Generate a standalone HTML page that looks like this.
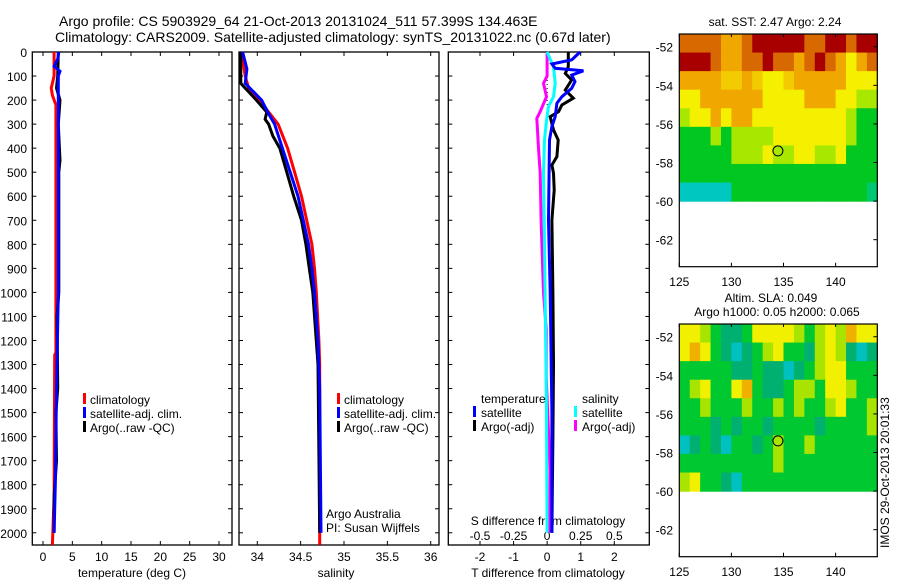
<!DOCTYPE html>
<html><head><meta charset="utf-8">
<style>
html,body{margin:0;padding:0;background:#fff;}
svg{display:block;font-family:"Liberation Sans",sans-serif;}
text{font-size:12px;fill:#000;}
</style></head>
<body>
<svg id="chart" width="900" height="580" viewBox="0 0 900 580" xmlns="http://www.w3.org/2000/svg">
<text x="59" y="26" style="font-size:14px">Argo profile: CS 5903929_64 21-Oct-2013 20131024_511 57.399S 134.463E</text>
<text x="55" y="42" style="font-size:14px">Climatology: CARS2009. Satellite-adjusted climatology: synTS_20131022.nc (0.67d later)</text>
<g id="g"></g>
</svg>
<script>
// ---------- data ----------
const depthTicks = [0,100,200,300,400,500,600,700,800,900,1000,1100,1200,1300,1400,1500,1600,1700,1800,1900,2000];
const tempTicks = [0,5,10,15,20,25,30];
const salTicks = [34,34.5,35,35.5,36];
const tdiffTicks = [-2,-1,0,1,2];
const sdiffTicks = [-0.5,-0.25,0,0.25,0.5];
const sdiffLabels = ["-0.5","-0.25","0","0.25","0.5"];
const latTicks = [-52,-54,-56,-58,-60,-62];
const lonTicks = [125,130,135,140];

// temperature profiles
const tClimDepth = [0,100,130,150,180,220,300,1250,1260,1850,2050];
const tClimVal   = [1.9,1.9,1.6,1.4,1.6,2.2,2.2,2.2,2.0,1.9,1.6];
const tSatDepth  = [0,30,60,80,100,200,1000,1400,1800,2000];
const tSatVal    = [2.7,2.5,1.9,2.9,2.6,2.6,2.6,2.3,2.1,1.9];
const tArgoDepth = [0,100,150,200,300,400,450,500,1000,1100,1400,1500,1700,1850,2000];
const tArgoVal   = [2.6,2.5,2.3,2.9,2.6,2.8,2.9,2.7,2.7,2.4,2.5,2.2,2.3,1.9,1.9];

// salinity profiles
const sClimDepth = [0,100,150,200,250,300,400,500,600,700,800,900,1000,1200,1300,2050];
const sClimVal   = [33.82,33.86,33.90,34.03,34.13,34.24,34.35,34.43,34.51,34.57,34.63,34.66,34.68,34.71,34.72,34.72];
const sSatDepth  = [0,70,130,200,250,300,400,500,600,700,800,900,1000,1200,1400,2000];
const sSatVal    = [33.83,33.88,33.86,34.05,34.12,34.20,34.29,34.38,34.47,34.53,34.59,34.63,34.66,34.70,34.72,34.735];
const sArgoDepth = [0,130,150,200,250,280,300,350,400,500,600,700,800,900,1000,1300,2000];
const sArgoVal   = [33.81,33.81,33.86,33.99,34.11,34.09,34.13,34.18,34.26,34.34,34.42,34.51,34.56,34.60,34.64,34.70,34.72];

// differences from climatology
const dTSatDepth  = [0,33,50,68,78,96,123,151,186,213,269,310,366,700,1000,1500,2000];
const dTSatVal    = [0.98,0.73,0.14,0.24,1.08,0.73,0.83,0.73,0.44,0.29,0.24,0.14,0.07,0.04,0.09,0.14,0.14];
const dTArgoDepth = [0,61,89,116,158,192,220,248,269,324,366,435,470,504,574,699,1000,1300,1600,2000];
const dTArgoVal   = [0.63,0.63,0.54,0.73,0.54,0.78,0.44,0.34,0.09,0.19,0.33,0.29,0.14,0.19,0.21,0.14,0.17,0.19,0.17,0.14];
const dSSatDepth  = [0,61,130,186,227,296,366,504,699,1000,1500,2000];
const dSSatVal    = [0,0.047,0.06,0.047,0.01,-0.007,-0.02,-0.027,-0.022,-0.015,-0.005,0.0];
const dSArgoDepth = [0,100,130,186,248,276,324,393,504,699,1000,1155,1352,1739,2000];
const dSArgoVal   = [0,0,-0.027,-0.005,-0.052,-0.077,-0.072,-0.065,-0.052,-0.045,-0.027,-0.007,-0.007,0.022,0.02];

// map grids (rows -51.34..-60, cols lon 125..144)
const sstGrid = [
 [5,5,5,5,4,4,5,6,6,6,6,6,5,5,6,6,5,6,6],
 [6,6,6,5,4,4,5,5,6,5,5,4,5,6,5,4,3,4,5],
 [4,4,4,4,3.5,3.5,4,3.5,3,3,3.5,4,4,4,4,4,3,3,3],
 [3,3,4,4,4,4,4,4,3,3,3,3,4,4,4,3,3,2,2],
 [2,3,3,4,3,4,4,3,3,3,3,3,3,3,3,3,2,1,1],
 [1,1,1,2,1,2,2,2,2,3,3,3,3,3,3,3,2,1,1],
 [1,1,1,1,1,2,2,2,3,2,2,3,3,2,2,3,1,1,1],
 [1,1,1,1,1,1,1,1,1,1,1,1,1,1,1,1,1,1,1],
 [0,0,0,0,0,1,1,1,1,1,1,1,1,1,1,1,1,1,0.5]];
const slaGrid = [
 [4,4,3,2,1,1,2,4,4,4,4,3,2,3,4,3,5,4,4],
 [4,5,4,2,1,0,1,2,3,4,2,2,1,3,4,3,1,0,1],
 [2,2,2,2,2,1,1,2,1,1,0,1,2,3,4,4,2,2,2],
 [2,3,4,2,2,4,5,2,1,1,2,3,3,2,4,4,3,2,2],
 [2,2,3,2,2,2,3,2,2,3,2,3,2,2,3,4,2,2,3],
 [2,2,2,1,2,1,2,2,1,2,2,2,2,1,2,2,2,2,3],
 [0,1,2,1,0,2,2,1,2,3,2,2,3,2,2,2,2,2,2],
 [2,2,2,2,2,2,2,2,2,3,2,2,2,2,2,2,2,2,2],
 [3,4,2,2,1,0,2,2,2,2,2,2,2,2,2,2,2,2,2]];
const sstColors = ["#00c8c0","#00c820","#a8e800","#f4f000","#f0a800","#d86800","#a80000"];
const slaColors = ["#00c0c0","#00b070","#00c830","#a8e400","#f0f000","#f0b000"];
const argoLon = 134.463, argoLat = -57.399;

// ---------- drawing ----------
const NS="http://www.w3.org/2000/svg";
const G=document.getElementById('g');
function mk(tag,attrs,parent){const e=document.createElementNS(NS,tag);for(const k in attrs)e.setAttribute(k,attrs[k]);(parent||G).appendChild(e);return e;}
const PT=52, PB=545;
const yD = d => PT + d*0.2404;
function lin(d0,d1,r0,r1){return v=>r0+(v-d0)*(r1-r0)/(d1-d0);}
const xT = lin(0,30,43,219);
const xS = lin(34,36,257.3,430.7);
const xDT = lin(-2,2,480,614.3);
const xDS = lin(-0.5,0.5,480,614.3);

function panel(name,x0,x1){
  const r=mk('rect',{x:x0,y:PT,width:x1-x0,height:PB-PT,fill:'none',stroke:'#000','stroke-width':1.3});
  
  
  depthTicks.forEach(d=>{
    const y=yD(d);
    const t1=mk('line',{x1:x0,x2:x0+4,y1:y,y2:y,stroke:'#000'});
    
    
    const t2=mk('line',{x1:x1-4,x2:x1,y1:y,y2:y,stroke:'#000'});
    
    
  });
}
function xticks(name,vals,labels,sc,ly){
  vals.forEach((v,i)=>{
    const x=sc(v);
    const a=mk('line',{x1:x,x2:x,y1:PB,y2:PB-4,stroke:'#000'});
    
    
    const b=mk('line',{x1:x,x2:x,y1:PT,y2:PT+4,stroke:'#000'});
    
    
    const t=mk('text',{x:x,y:ly,'text-anchor':'middle'});
    t.textContent=labels?labels[i]:String(v);
    
    
  });
}
function line(name,ds,vs,sc,col,w){
  const pts=ds.map((d,i)=>sc(vs[i]).toFixed(1)+','+yD(d).toFixed(1)).join(' ');
  const p=mk('polyline',{points:pts,fill:'none',stroke:col,'stroke-width':w||3,'stroke-linejoin':'miter'});
  
  
}
function txt(name,x,y,s,extra){const t=mk('text',Object.assign({x:x,y:y},extra||{}));t.textContent=s;
  
  
  return t;}
function legMark(name,x,y,col){const r=mk('rect',{x:x,y:y-10,width:3,height:11,fill:col});
  
  }

// panel 1 temperature
panel('temperature-panel',32.3,232);
depthTicks.forEach(d=>{txt('depth-label',27,yD(d)+5,String(d),{'text-anchor':'end'});});
xticks('temperature-axis',tempTicks,null,xT,561);
txt('temperature-axis-title',132,577,'temperature (deg C)',{'text-anchor':'middle'});
line('temperature-climatology',tClimDepth,tClimVal,xT,'#ff0000');
line('temperature-argo',tArgoDepth,tArgoVal,xT,'#000000');
line('temperature-satellite',tSatDepth,tSatVal,xT,'#0000ff');
legMark('legend-climatology-mark',83,403,'#ff0000');txt('legend-climatology',90,404,'climatology');
legMark('legend-satellite-mark',83,417,'#0000ff');txt('legend-satellite',90,418,'satellite-adj. clim.');
legMark('legend-argo-mark',83,431,'#000000');txt('legend-argo',90,432,'Argo(..raw -QC)');

// panel 2 salinity
panel('salinity-panel',239,439);
xticks('salinity-axis',salTicks,null,xS,561);
txt('salinity-axis-title',336,577,'salinity',{'text-anchor':'middle'});
line('salinity-climatology',sClimDepth,sClimVal,xS,'#ff0000');
line('salinity-argo',sArgoDepth,sArgoVal,xS,'#000000');
line('salinity-satellite',sSatDepth,sSatVal,xS,'#0000ff');
legMark('legend2-climatology-mark',337,403,'#ff0000');txt('legend2-climatology',344,404,'climatology');
legMark('legend2-satellite-mark',337,417,'#0000ff');txt('legend2-satellite',344,418,'satellite-adj. clim.');
legMark('legend2-argo-mark',337,431,'#000000');txt('legend2-argo',344,432,'Argo(..raw -QC)');
txt('institution-label',326,518,'Argo Australia');
txt('pi-label',326,532,'PI: Susan Wijffels');

// panel 3 differences
panel('difference-panel',448.3,649.3);
xticks('t-difference-axis',tdiffTicks,null,xDT,561);
txt('t-difference-axis-title',548,577,'T difference from climatology',{'text-anchor':'middle'});
sdiffTicks.forEach((v,i)=>{txt('s-difference-label',xDS(v),540,sdiffLabels[i],{'text-anchor':'middle'});});
txt('s-difference-axis-title',548,525,'S difference from climatology',{'text-anchor':'middle'});
{const z=mk('line',{x1:xDT(0),x2:xDT(0),y1:PT,y2:yD(300),stroke:'#000','stroke-dasharray':'1,3'});
 
 }
line('s-diff-argo',dSArgoDepth,dSArgoVal,xDS,'#ff00ff');
line('s-diff-satellite',dSSatDepth,dSSatVal,xDS,'#00ffff');
line('t-diff-argo',dTArgoDepth,dTArgoVal,xDT,'#000000');
line('t-diff-satellite',dTSatDepth,dTSatVal,xDT,'#0000ff');
txt('legend3-temperature-heading',481,403,'temperature');
legMark('legend3-t-satellite-mark',473,416,'#0000ff');txt('legend3-t-satellite',481,417,'satellite');
legMark('legend3-t-argo-mark',473,430,'#000000');txt('legend3-t-argo',481,431,'Argo(-adj)');
txt('legend3-salinity-heading',582,403,'salinity');
legMark('legend3-s-satellite-mark',574,416,'#00ffff');txt('legend3-s-satellite',582,417,'satellite');
legMark('legend3-s-argo-mark',574,430,'#ff00ff');txt('legend3-s-argo',582,431,'Argo(-adj)');

// maps
function hexmix(cols,v){const i=Math.floor(v),f=v-i;if(f===0||i>=cols.length-1)return cols[Math.min(i,cols.length-1)];
  const a=cols[i],b=cols[i+1];const c=k=>Math.round(parseInt(a.substr(k,2),16)*(1-f)+parseInt(b.substr(k,2),16)*f).toString(16).padStart(2,'0');
  return '#'+c(1)+c(3)+c(5);}
function map(name,top,grid,cols){
  const X0=679.3,X1=877.3,latTop=-51.34,latBot=-63.4;
  const xL=lin(125,144,X0,X1); const yL=lin(latTop,latBot,top,top+232.7);
  const rows=grid.length,nc=grid[0].length;
  const rh=(yL(-60)-top)/rows, cw=(X1-X0)/nc;
  grid.forEach((row,r)=>row.forEach((v,c)=>{
    const cell=mk('rect',{x:(X0+c*cw).toFixed(2),y:(top+r*rh).toFixed(2),width:(cw+0.6).toFixed(2),height:(rh+0.6).toFixed(2),fill:hexmix(cols,v)});
    
    
  }));
  const fr=mk('rect',{x:X0,y:top,width:X1-X0,height:232.7,fill:'none',stroke:'#000','stroke-width':1.2});
  
  
  latTicks.forEach(l=>{const y=yL(l);
    const a=mk('line',{x1:X1-4,x2:X1,y1:y,y2:y,stroke:'#000'});
    
    
    txt(name+'-lat-label',673,y+5,String(l),{'text-anchor':'end'});});
  lonTicks.forEach(l=>{const x=xL(l);
    const a=mk('line',{x1:x,x2:x,y1:top+232.7,y2:top+228.7,stroke:'#000'});
    
    
    const b=mk('line',{x1:x,x2:x,y1:top,y2:top+3,stroke:'#000'});
    
    
    txt(name+'-lon-label',x,top+252,String(l),{'text-anchor':'middle'});});
  const c=mk('circle',{cx:xL(argoLon),cy:yL(argoLat),r:5,fill:'none',stroke:'#000','stroke-width':1});
  
  
}
map('sst-map',34,sstGrid,sstColors);
txt('sst-map-title',775,26,'sat. SST: 2.47 Argo: 2.24',{'text-anchor':'middle'});
map('sla-map',324,slaGrid,slaColors);
txt('sla-map-title-1',771,302,'Altim. SLA: 0.049',{'text-anchor':'middle'});
txt('sla-map-title-2',777,316,'Argo h1000: 0.05 h2000: 0.065',{'text-anchor':'middle'});
txt('imos-timestamp',0,0,'IMOS 29-Oct-2013 20:01:33',{transform:'translate(889,548) rotate(-90)'});
</script>
</body></html>
